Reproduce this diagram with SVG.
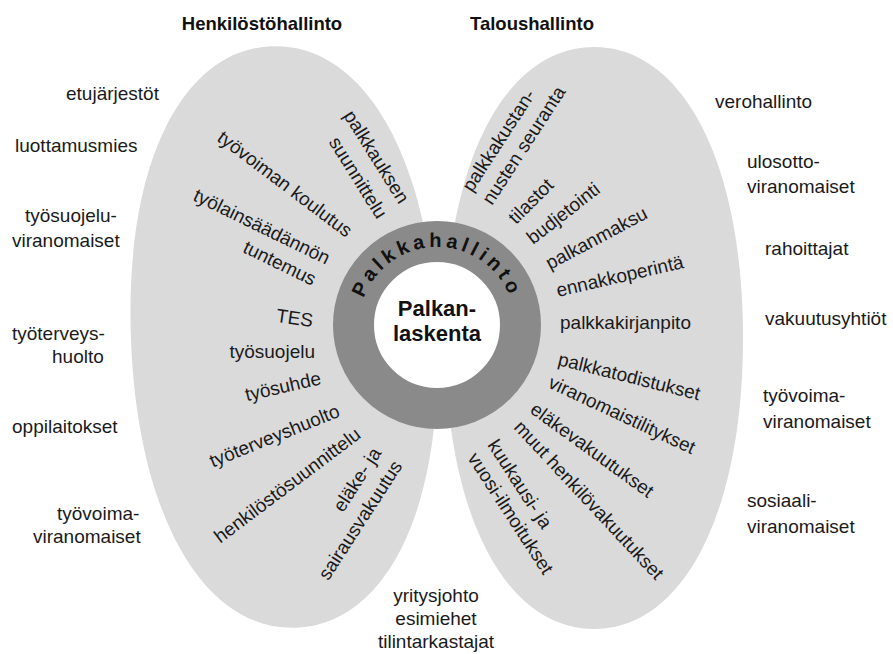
<svg xmlns="http://www.w3.org/2000/svg" width="893" height="654" viewBox="0 0 893 654">
<defs>
<style>
.t{font-family:"Liberation Sans",Arial,sans-serif;font-size:19px;fill:#1a1a1a}
.e{text-anchor:end}
.m{text-anchor:middle}
.b{font-weight:bold}
.title{font-family:"Liberation Sans",Arial,sans-serif;font-size:18.5px;font-weight:bold;fill:#111;text-anchor:middle}
.blob{fill:#dadada}
</style>
<path id="ringArc" d="M359,325 A78,78 0 0 1 515,325"/>
</defs>
<rect width="893" height="654" fill="#fff"/>
<g id="henkilostohallinto-area">
<path class="blob" transform="rotate(-2.5 284 337)" d="M284,46 C375.8,46 437,162.4 437,337 C437,511.6 375.8,628 284,628 C192.2,628 131,511.6 131,337 C131,162.4 192.2,46 284,46 Z"/>
</g>
<g id="taloushallinto-area">
<path class="blob" d="M594,47 C683.4,47 743,163.4 743,338 C743,512.6 683.4,629 594,629 C504.6,629 445,512.6 445,338 C445,163.4 504.6,47 594,47 Z"/>
</g>
<g id="titles">
<text class="title" x="262" y="30">Henkilöstöhallinto</text>
<text class="title" x="532" y="30">Taloushallinto</text>
</g>
<g id="palkkahallinto">
<circle cx="437" cy="325" r="83.5" fill="#fff" stroke="#8a8a8a" stroke-width="41"/>
<text class="t b" style="font-size:20px;letter-spacing:4px;fill:#111"><textPath href="#ringArc" startOffset="50%" text-anchor="middle">Palkkahallinto</textPath></text>
</g>
<g id="palkanlaskenta">
<text class="t b m" style="font-size:22px;fill:#111" x="437" y="316">Palkan-</text>
<text class="t b m" style="font-size:22px;fill:#111" x="437" y="341">laskenta</text>
</g>
<g id="henkilosto-tasks">
<text class="t e" transform="translate(399,205) rotate(58)">palkkauksen</text>
<text class="t e" transform="translate(377,220) rotate(58)">suunnittelu</text>
<text class="t e" transform="translate(346,238) rotate(37)">työvoiman koulutus</text>
<text class="t e" transform="translate(326,265) rotate(26)">työlainsäädännön</text>
<text class="t e" transform="translate(312,286) rotate(26)">tuntemus</text>
<text class="t e" transform="translate(312,327) rotate(8)">TES</text>
<text class="t e" transform="translate(315,358)">työsuojelu</text>
<text class="t e" transform="translate(322,384) rotate(-13)">työsuhde</text>
<text class="t e" transform="translate(341,416) rotate(-22)">työterveyshuolto</text>
<text class="t e" transform="translate(362,437) rotate(-37)">henkilöstösuunnittelu</text>
<text class="t e" transform="translate(382,453) rotate(-57)">eläke- ja</text>
<text class="t e" transform="translate(403,466) rotate(-57)">sairausvakuutus</text>
</g>
<g id="talous-tasks">
<text class="t" transform="translate(472,193) rotate(-57)">palkkakustan-</text>
<text class="t" transform="translate(492,206) rotate(-57)">nusten seuranta</text>
<text class="t" transform="translate(516,225) rotate(-45)">tilastot</text>
<text class="t" transform="translate(533,245) rotate(-38)">budjetointi</text>
<text class="t" transform="translate(550,270) rotate(-28)">palkanmaksu</text>
<text class="t" transform="translate(558,297) rotate(-13)">ennakkoperintä</text>
<text class="t" transform="translate(560,329)">palkkakirjanpito</text>
<text class="t" transform="translate(557,365) rotate(14)">palkkatodistukset</text>
<text class="t" transform="translate(547,387) rotate(25)">viranomaistilitykset</text>
<text class="t" transform="translate(529,412) rotate(36)">eläkevakuutukset</text>
<text class="t" transform="translate(513,428) rotate(47)">muut henkilövakuutukset</text>
<text class="t" transform="translate(487,445) rotate(57)">kuukausi- ja</text>
<text class="t" transform="translate(467,458) rotate(57)">vuosi-ilmoitukset</text>
</g>
<g id="henkilosto-partners">
<text class="t" x="66" y="100">etujärjestöt</text>
<text class="t" x="15" y="152">luottamusmies</text>
<text class="t" x="25" y="222">työsuojelu-</text>
<text class="t" x="12" y="247">viranomaiset</text>
<text class="t" x="12" y="340">työterveys-</text>
<text class="t" x="52" y="363">huolto</text>
<text class="t" x="12" y="433">oppilaitokset</text>
<text class="t" x="57" y="520">työvoima-</text>
<text class="t" x="33" y="543">viranomaiset</text>
</g>
<g id="talous-partners">
<text class="t" x="715" y="108">verohallinto</text>
<text class="t" x="747" y="168">ulosotto-</text>
<text class="t" x="747" y="193">viranomaiset</text>
<text class="t" x="765" y="255">rahoittajat</text>
<text class="t" x="765" y="325">vakuutusyhtiöt</text>
<text class="t" x="763" y="402">työvoima-</text>
<text class="t" x="763" y="428">viranomaiset</text>
<text class="t" x="747" y="507">sosiaali-</text>
<text class="t" x="747" y="533">viranomaiset</text>
</g>
<g id="management">
<text class="t m" x="436" y="602">yritysjohto</text>
<text class="t m" x="436" y="625">esimiehet</text>
<text class="t m" x="436" y="648">tilintarkastajat</text>
</g>
<g id="connectors"/>
</svg>
